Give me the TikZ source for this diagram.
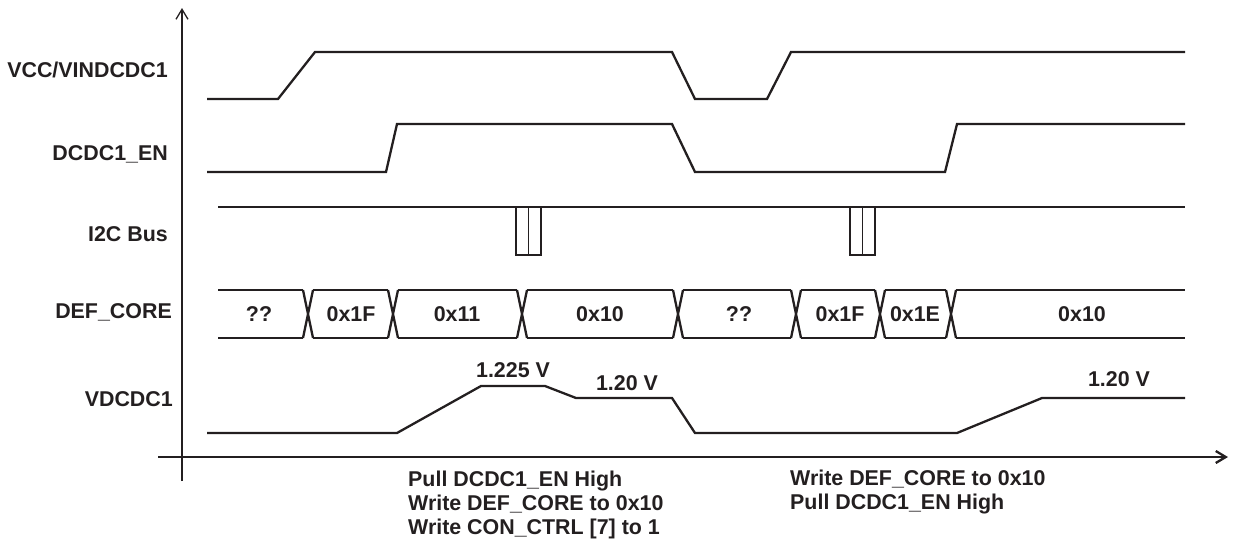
\documentclass[tikz,border=0pt]{standalone}
\usepackage{fontspec}
\setmainfont{Liberation Sans}
\usetikzlibrary{arrows.meta}

\definecolor{ink}{HTML}{231F20}
\newcommand{\sigfont}{\fontsize{21.4}{24}\selectfont\bfseries}

\begin{document}
\begin{tikzpicture}[
    x=1pt, y=-1pt,
    sig/.style={draw=ink, line width=2.3pt, line join=miter},
    pulse/.style={draw=ink, line width=1.6pt},
    axis/.style={draw=ink, line width=1.3pt, -{Straight Barb[length=10pt, width=12pt]}},
    lbl/.style={anchor=base east, inner sep=0pt, font=\sigfont, text=ink},
    val/.style={anchor=base, inner sep=0pt, font=\sigfont, text=ink},
    note/.style={anchor=north west, align=left, inner sep=0pt, font=\sigfont, text=ink},
]
\useasboundingbox (0,0) rectangle (1233,542);

% axes
\draw[axis] (182,481) -- (182,8);
\draw[axis, line width=2.3pt] (158,457) -- (1228,457);

% signal names
\node[lbl] (vcc) at (168,77)  {VCC/VINDCDC1};
\node[lbl] (en)  at (168,160) {DCDC1\_EN};
\node[lbl] (i2c) at (168,241) {I2C Bus};
\node[lbl] (def) at (172,318) {DEF\_CORE};
\node[lbl] (vdc) at (173,406) {VDCDC1};

% VCC/VINDCDC1
\draw[sig] (207,99) -- (278,99) -- (315,52) -- (672,52) -- (695,99)
    -- (767,99) -- (791,52) -- (1185,52);

% DCDC1_EN
\draw[sig] (207,172) -- (386,172) -- (397,124) -- (672,124) -- (695,172)
    -- (945,172) -- (957,124) -- (1185,124);

% I2C bus with the two write bursts
\draw[sig] (218,207) -- (1185,207);
\foreach \p in {516,850} {
    \draw[pulse] (\p,207) rectangle (\p+25,255);
    \draw[pulse] (\p+12.5,207) -- (\p+12.5,255);
}

% DEF_CORE register contents
\foreach \a/\b in {218/303, 313/388, 398/517, 527/673, 683/791, 801/875, 885/946, 956/1185}
    \draw[sig] (\a,290) -- (\b,290) (\a,338) -- (\b,338);
\foreach \a in {303,388,517,673,791,875,946}
    \draw[sig] (\a,290) -- (\a+10,338) (\a,338) -- (\a+10,290);

\node[val] (d1) at (259,321)  {??};
\node[val] (d2) at (351,321)  {0x1F};
\node[val] (d3) at (457,321)  {0x11};
\node[val] (d4) at (600,321)  {0x10};
\node[val] (d5) at (739,321)  {??};
\node[val] (d6) at (840,321)  {0x1F};
\node[val] (d7) at (915,321)  {0x1E};
\node[val] (d8) at (1082,321) {0x10};

% VDCDC1
\draw[sig] (207,433) -- (397,433) -- (481,386) -- (545,386) -- (576,398)
    -- (672,398) -- (695,433) -- (957,433) -- (1042,398) -- (1185,398);

\node[val] (v1) at (513,377)  {1.225 V};
\node[val] (v2) at (627,390)  {1.20 V};
\node[val] (v3) at (1119,386) {1.20 V};

% sequences below the time axis
\node[note] (seq1) at (408,471) {Pull DCDC1\_EN High\\Write DEF\_CORE to 0x10\\Write CON\_CTRL [7] to 1};
\node[note] (seq2) at (790,470) {Write DEF\_CORE to 0x10\\Pull DCDC1\_EN High};

\end{tikzpicture}
\end{document}
